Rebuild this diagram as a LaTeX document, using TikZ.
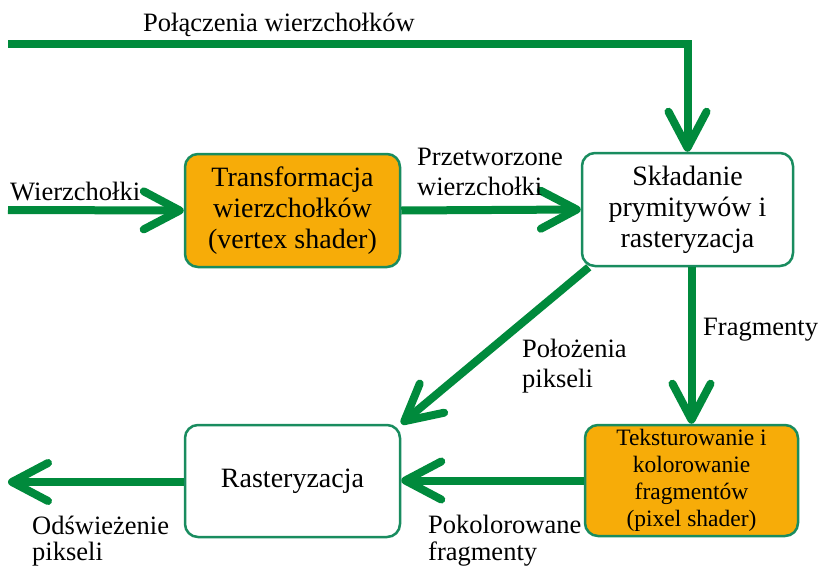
\documentclass[tikz,border=0pt]{standalone}
\usepackage{fontspec}
\setmainfont{Liberation Serif}
\usetikzlibrary{arrows.meta}

\definecolor{arrowgreen}{RGB}{0,138,60}
\definecolor{boxgreen}{RGB}{25,140,95}
\definecolor{shaderorange}{RGB}{247,172,8}

\begin{document}
\begin{tikzpicture}[x=1pt,y=-1pt,
    flow/.style={draw=arrowgreen, line width=8pt, -{Straight Barb[length=36pt,width=38pt,round]}},
    stage/.style={draw=boxgreen, line width=2.5pt, rounded corners=13pt, align=center, inner sep=0pt,
        font=\fontsize{28}{31}\selectfont},
    lbl/.style={inner sep=0pt, align=left, font=\fontsize{26.5}{30}\selectfont}]
    \useasboundingbox (0,0) rectangle (822,565);

    % pipeline stages
    \node[stage, fill=shaderorange, minimum width=215pt, minimum height=113pt] (tr) at (292.5,210.5)
        {Transformacja\\wierzchołków\\(vertex shader)};
    \node[stage, fill=white, minimum width=211pt, minimum height=113pt] (sk) at (687.5,209.5)
        {Składanie\\prymitywów i\\rasteryzacja};
    \node[stage, fill=white, minimum width=215pt, minimum height=112pt] (ra) at (292.5,481)
        {Rasteryzacja};
    \node[stage, fill=shaderorange, minimum width=213pt, minimum height=111pt,
        font=\fontsize{23.5}{27}\selectfont] (te) at (691.5,480.5)
        {Teksturowanie i\\kolorowanie\\fragmentów\\(pixel shader)};

    % free ends
    \coordinate (in) at (8,210);
    \coordinate (top) at (8,44);
    \coordinate (out) at (8,482);

    % connectors
    \draw[flow] (top) -| (sk.north);
    \draw[flow] (in) -- (tr.west);
    \draw[flow] (tr.east) -- (sk.west);
    \draw[flow] (te.north |- sk.south) -- (te.north);
    \draw[flow] ([xshift=8pt]sk.south west) -- (ra.north east);
    \draw[flow] (te.west) -- (ra.east |- te.west);
    \draw[flow] (ra.west |- out) -- (out);

    % labels (base = last line)
    \node[lbl, anchor=base west] (toplbl) at (143,31) {Połączenia wierzchołków};
    \node[lbl, anchor=base west] (inlbl) at (10,200) {Wierzchołki};
    \node[lbl, anchor=base west] (trlbl) at (417,195) {Przetworzone\\wierzchołki};
    \node[lbl, anchor=base west] (fraglbl) at (703,335) {Fragmenty};
    \node[lbl, anchor=base west] (poslbl) at (522,387) {Położenia\\pikseli};
    \node[lbl, anchor=base west, font=\fontsize{26.5}{26}\selectfont] (outlbl) at (32,560)
        {Odświeżenie\\pikseli};
    \node[lbl, anchor=base west, font=\fontsize{26.5}{27}\selectfont] (collbl) at (428,560)
        {Pokolorowane\\fragmenty};
\end{tikzpicture}
\end{document}
